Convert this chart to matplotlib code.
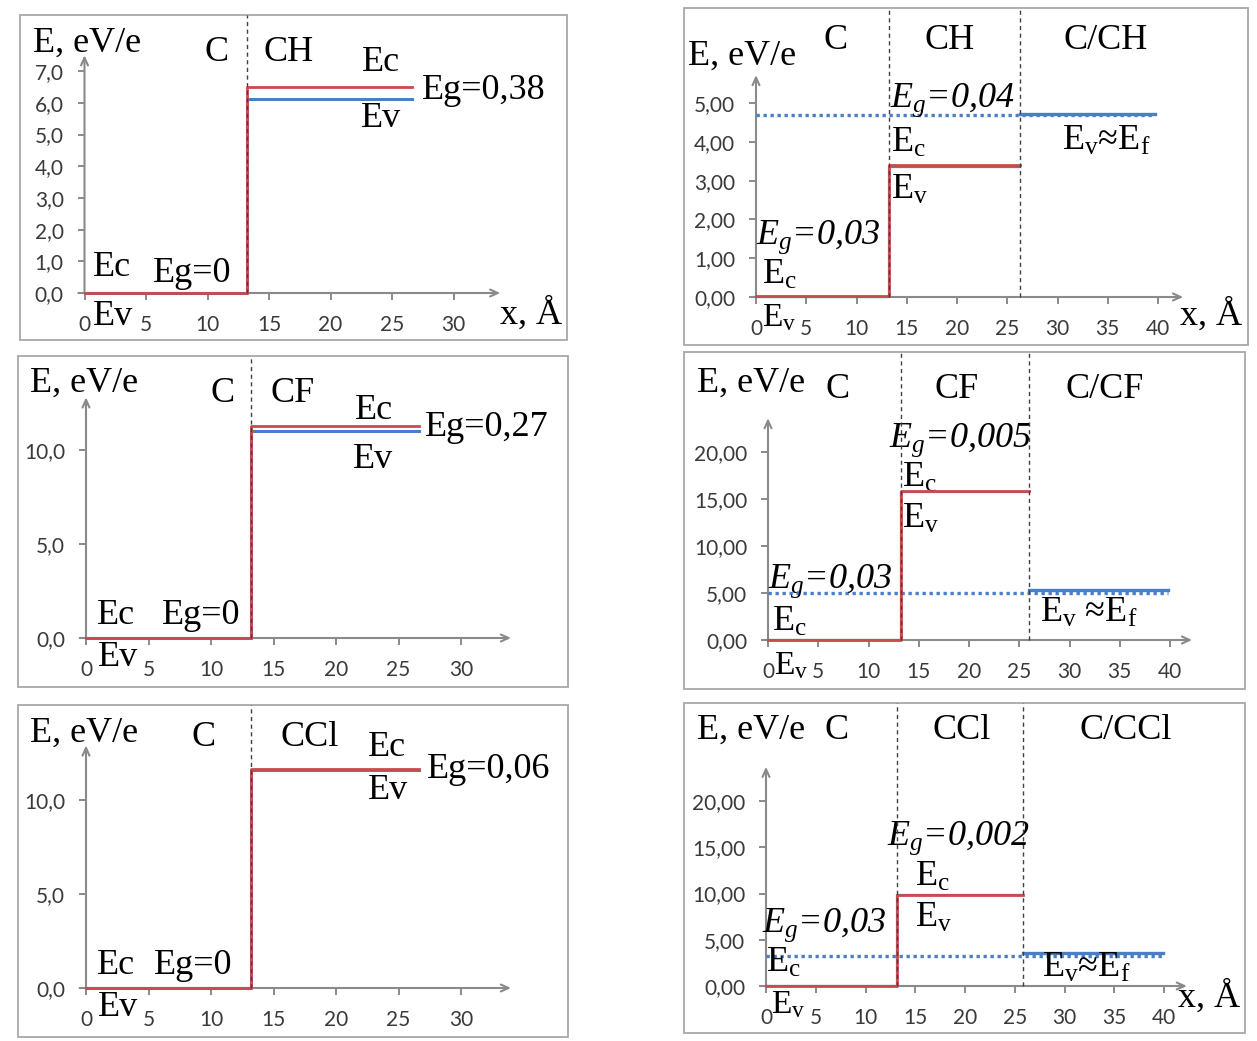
import numpy as np
import matplotlib
matplotlib.use('Agg')
import matplotlib.pyplot as plt
from matplotlib.patches import Rectangle

plt.rcParams['font.family'] = ['Liberation Serif', 'DejaVu Serif']
plt.rcParams['mathtext.fontset'] = 'custom'
plt.rcParams['mathtext.rm'] = 'Liberation Serif'
plt.rcParams['mathtext.it'] = 'Liberation Serif:italic'
plt.rcParams['mathtext.bf'] = 'Liberation Serif:bold'

RED = '#cc4a4a'
BLUE = '#4a7fc8'
AXIS = '#8a8a8a'
TICKTXT = '#3a3a3a'
W, H = 1257, 1041

# C | CX structures (left column): Ec of the CX layer and its gap
left_names = ['CH', 'CF', 'CCl']
left_ec = [6.50, 11.30, 11.65]
left_gap = [0.38, 0.27, 0.06]
left_x = [0, 13.2, 26.6]

# C | CX | C/CX structures (right column)
right_names = ['CH', 'CF', 'CCl']
right_ec = [3.40, 15.80, 9.80]
right_gap = [0.04, 0.005, 0.002]
right_ev_mix = [4.72, 5.30, 3.60]
right_ef = [4.68, 5.00, 3.25]
right_x = [[0, 13.2, 26.3, 39.7],
           [0, 13.2, 26.0, 39.8],
           [0, 13.2, 25.8, 39.9]]
c_gap = 0.03

left_yticks = [np.arange(0, 8, 1), [0, 5, 10], [0, 5, 10]]
right_yticks = [np.arange(0, 6, 1), [0, 5, 10, 15, 20], [0, 5, 10, 15, 20]]
left_xticks = np.arange(0, 35, 5)
right_xticks = np.arange(0, 45, 5)

# frame box (l, t, r, b) in px, data origin in px, px per angstrom, px per eV
left_frames = [((20, 15, 567, 340), (84.5, 293), 12.3, 31.7),
               ((18, 356, 568, 687), (86, 638), 12.5, 18.8),
               ((18, 705, 568, 1037), (86, 988), 12.5, 18.8)]
right_frames = [((684, 8, 1248, 345), (756, 297), 10.05, 38.8),
                ((684, 352, 1245, 689), (768, 640), 10.05, 9.4),
                ((684, 703, 1245, 1033), (766, 986), 9.95, 9.25)]
left_tips = [(33.8, 7.5), (34.0, 12.8), (34.0, 12.9)]
right_tips = [(42.5, 5.72), (42.2, 23.6), (42.3, 23.7)]


def comma(v):
    return ('%g' % v).replace('.', ',')


def make_axes(fig, frame):
    (l, t, r, b), (x0, y0), sx, sy = frame
    ax = fig.add_axes([l / W, 1 - b / H, (r - l) / W, (b - t) / H])
    ax.set_xlim((l - x0) / sx, (r - x0) / sx)
    ax.set_ylim((y0 - b) / sy, (y0 - t) / sy)
    for s in ax.spines.values():
        s.set_visible(False)
    ax.spines['left'].set_position(('data', 0))
    ax.spines['bottom'].set_position(('data', 0))
    ax.add_patch(Rectangle((0, 0), 1, 1, transform=ax.transAxes, fill=False,
                           ec='#a8a8a8', lw=1.3, clip_on=False))
    return ax


def draw_axes(ax, xticks, yticks, ndec, tip):
    arrow = dict(arrowstyle='->,head_length=0.55,head_width=0.25', color=AXIS,
                 lw=1.5, shrinkA=0, shrinkB=0)
    ax.annotate('', xy=(tip[0], 0), xytext=(-0.5, 0), arrowprops=arrow)
    ax.annotate('', xy=(0, tip[1]), xytext=(0, 0), arrowprops=arrow)
    ax.set_xticks(xticks)
    ax.set_xticklabels([str(v) for v in xticks], fontfamily='Lato')
    ax.set_yticks(yticks)
    ax.set_yticklabels([('%.*f' % (ndec, v)).replace('.', ',') for v in yticks],
                       fontfamily='Lato')
    ax.tick_params(direction='out', length=5, width=1.4, color=AXIS,
                   labelcolor=TICKTXT, labelsize=15)
    ax.tick_params(axis='x', pad=11)
    ax.tick_params(axis='y', pad=10)


def put(ax, x, y, s, ha='center', size=26, **kw):
    ax.text(x, y, s, ha=ha, va='center', fontsize=size, clip_on=False, **kw)


def gap_label(v):
    # italic E with subscript g, then the value
    return r'$\mathit{E_g}$=' + comma(v)


fig = plt.figure(figsize=(W / 100, H / 100), dpi=100)

# texts of the left column: C label, CX label, Ec, Ev, Eg, lower Ec, Eg=0, lower Ev
left_text = [
    dict(axis=(-4.19, 7.89), c=(10.7, 7.6), cx=(16.6, 7.6), ec=(24.1, 7.26),
         ev=(24.1, 5.49), eg=(27.4, 6.4), ec0=(2.2, 0.79), eg0=(8.75, 0.63),
         ev0=(2.3, -0.73), xl=(33.8, -0.69)),
    dict(axis=(-4.48, 13.56), c=(10.9, 13.0), cx=(16.5, 13.0), ec=(23.0, 12.1),
         ev=(23.0, 9.47), eg=(27.1, 11.2), ec0=(2.4, 1.2), eg0=(9.2, 1.2),
         ev0=(2.6, -1.06), xl=None),
    dict(axis=(-4.48, 13.56), c=(9.4, 13.35), cx=(17.9, 13.35), ec=(24.1, 12.77),
         ev=(24.2, 10.5), eg=(27.3, 11.6), ec0=(2.4, 1.22), eg0=(8.56, 1.22),
         ev0=(2.6, -1.06), xl=None),
]

for i in range(3):
    ax = make_axes(fig, left_frames[i])
    draw_axes(ax, left_xticks, left_yticks[i], 1, left_tips[i])
    ec = [0, left_ec[i], left_ec[i]]
    ev = [0, left_ec[i] - left_gap[i], left_ec[i] - left_gap[i]]
    ax.plot(left_x, ev, drawstyle='steps-post', color=BLUE, lw=2.2, zorder=3)
    ax.plot(left_x, ec, drawstyle='steps-post', color=RED, lw=2.0, zorder=4)
    ax.vlines(left_x[1], 0, ax.get_ylim()[1], colors='#404040', lw=1.0,
              linestyles=(0, (3, 2.5)), zorder=5)
    tx = left_text[i]
    put(ax, *tx['axis'], 'E, eV/e', ha='left')
    put(ax, *tx['c'], 'C')
    put(ax, *tx['cx'], left_names[i])
    put(ax, *tx['ec'], 'Ec')
    put(ax, *tx['ev'], 'Ev')
    put(ax, *tx['eg'], 'Eg=' + comma(left_gap[i]), ha='left')
    put(ax, *tx['ec0'], 'Ec')
    put(ax, *tx['eg0'], 'Eg=0')
    put(ax, *tx['ev0'], 'Ev')
    if tx['xl']:
        put(ax, *tx['xl'], 'x, Å', ha='left')

right_text = [
    dict(axis=(-6.77, 6.21), c=(7.96, 6.62), cx=(19.3, 6.62), mix=(34.8, 6.62),
         eg=(13.3, 5.08), ec=(13.4, 3.97), ev=(13.4, 2.76), evf=(30.4, 4.0),
         eg0=(0.0, 1.55), ec0=(0.6, 0.57), ev0=(0.55, -0.54), xl=(42.2, -0.49)),
    dict(axis=(-7.06, 27.3), c=(6.9, 26.6), cx=(18.8, 26.6), mix=(33.5, 26.6),
         eg=(12.0, 21.2), ec=(13.3, 17.2), ev=(13.3, 12.8), evf=(27.1, 2.8),
         eg0=(0.0, 6.2), ec0=(0.4, 1.9), ev0=(0.55, -2.7), xl=None),
    dict(axis=(-6.93, 27.6), c=(7.1, 27.6), cx=(19.7, 27.6), mix=(36.2, 27.6),
         eg=(12.2, 16.0), ec=(15.0, 11.8), ev=(15.0, 7.35), evf=(27.7, 1.95),
         eg0=(-0.4, 6.6), ec0=(0.0, 2.5), ev0=(0.55, -2.05), xl=(41.4, -1.3)),
]

for i in range(3):
    ax = make_axes(fig, right_frames[i])
    draw_axes(ax, right_xticks, right_yticks[i], 2, right_tips[i])
    xs = right_x[i]
    ec = [c_gap, right_ec[i], right_ec[i]]
    ev = [0, right_ec[i] - right_gap[i], right_ec[i] - right_gap[i]]
    ax.plot(xs[:3], ev, drawstyle='steps-post', color=BLUE, lw=1.6, zorder=3)
    ax.plot(xs[:3], ec, drawstyle='steps-post', color=RED, lw=2.0, zorder=4)
    ax.plot([xs[0], xs[3]], [right_ef[i], right_ef[i]], color=BLUE, lw=2.4,
            linestyle=(0, (1, 1.1)), zorder=3)
    ax.plot([xs[2], xs[3]], [right_ev_mix[i], right_ev_mix[i]], color=BLUE,
            lw=2.4, zorder=3)
    for xv in xs[1:3]:
        ax.vlines(xv, 0, ax.get_ylim()[1], colors='#404040', lw=1.0,
                  linestyles=(0, (3, 2.5)), zorder=5)
    tx = right_text[i]
    put(ax, *tx['axis'], 'E, eV/e', ha='left')
    put(ax, *tx['c'], 'C')
    put(ax, *tx['cx'], right_names[i])
    put(ax, *tx['mix'], 'C/' + right_names[i])
    put(ax, *tx['eg'], gap_label(right_gap[i]), ha='left', fontstyle='italic')
    put(ax, *tx['ec'], r'$\mathrm{E_c}$', ha='left')
    put(ax, *tx['ev'], r'$\mathrm{E_v}$', ha='left')
    sep = ' ≈' if i == 1 else '≈'
    put(ax, *tx['evf'], r'$\mathrm{E_v}$' + sep + r'$\mathrm{E_f}$', ha='left')
    put(ax, *tx['eg0'], gap_label(c_gap), ha='left', fontstyle='italic')
    put(ax, *tx['ec0'], r'$\mathrm{E_c}$', ha='left')
    put(ax, *tx['ev0'], r'$\mathrm{E_v}$', ha='left', size=24)
    if tx['xl']:
        put(ax, *tx['xl'], 'x, Å', ha='left')

fig.savefig('out.png', dpi=100, facecolor='white')
